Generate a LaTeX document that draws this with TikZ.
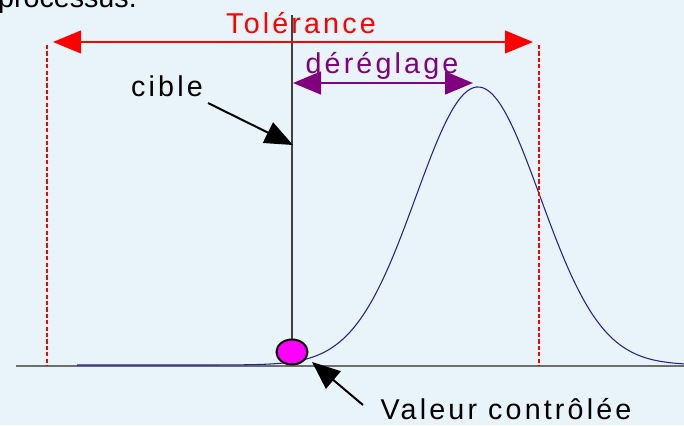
\documentclass[tikz,border=0pt]{standalone}
\usepackage{fontspec}
\setmainfont{Liberation Sans}
\usetikzlibrary{arrows.meta}
\definecolor{bgblue}{RGB}{232,243,250}
\definecolor{curveblue}{RGB}{35,35,145}
\definecolor{axisgrey}{RGB}{110,110,110}
\definecolor{derpurple}{RGB}{128,0,128}
\definecolor{ctrlpink}{RGB}{255,0,255}
\newcommand{\spaced}[1]{{\addfontfeature{LetterSpace=11}#1}}
\tikzset{
  lbl/.style={inner sep=0pt, anchor=base, font=\fontsize{21.5}{25}\selectfont},
  tolline/.style={red, line width=2pt, dash pattern=on 3.2pt off 1.6pt},
  bigtip/.style={-{Triangle[length=21pt,width=17pt]}},
  twotips/.style={{Triangle[length=21pt,width=17pt]}-{Triangle[length=21pt,width=17pt]}}
}

\begin{document}
\begin{tikzpicture}[x=0.75pt,y=-0.75pt]

\fill[bgblue] (0,0) rectangle (684,425);
\useasboundingbox (0,0) rectangle (684,425);

\node[lbl, anchor=base east] (proc) at (137,7) {processus.};

\draw[axisgrey, line width=1.5pt] (16,366) -- (684,366);
\draw[curveblue, line width=0.8pt] plot[domain=77:684, samples=200, smooth]
  (\x, {365-278*exp(-0.5*((\x-478)/62)^2)});

\draw[tolline] (47,45) -- (47,366);
\draw[tolline] (539,45) -- (539,366);

\draw[black!75, line width=0.8pt] (292,15) -- (292,352);

\coordinate (tolL) at (53,42);
\coordinate (tolR) at (533,42);
\draw[red, line width=1.5pt, twotips] (tolL) -- (tolR);
\node[lbl, red] (tol) at (301,33) {\spaced{Tolérance}};

\coordinate (derL) at (293,83);
\coordinate (derR) at (473,83);
\draw[derpurple, line width=2pt, twotips] (derL) -- (derR);
\node[lbl, derpurple] (der) at (382,73) {\spaced{déréglage}};

\node[lbl] (cible) at (167,96) {\spaced{cible}};
\coordinate (cibtail) at (208,103);
\coordinate (cibtip) at (293,145);
\draw[line width=1.5pt, bigtip] (cibtail) -- (cibtip);

\draw[fill=ctrlpink, line width=1.5pt] (292,352) ellipse [x radius=15.5, y radius=12.5];
\coordinate (ctrl) at (292,352);

\node[lbl] (val) at (506,419) {\spaced{Valeur contrôlée}};
\coordinate (valtail) at (363,405);
\coordinate (valtip) at (312,362);
\draw[line width=1.5pt, bigtip] (valtail) -- (valtip);

\end{tikzpicture}
\end{document}
